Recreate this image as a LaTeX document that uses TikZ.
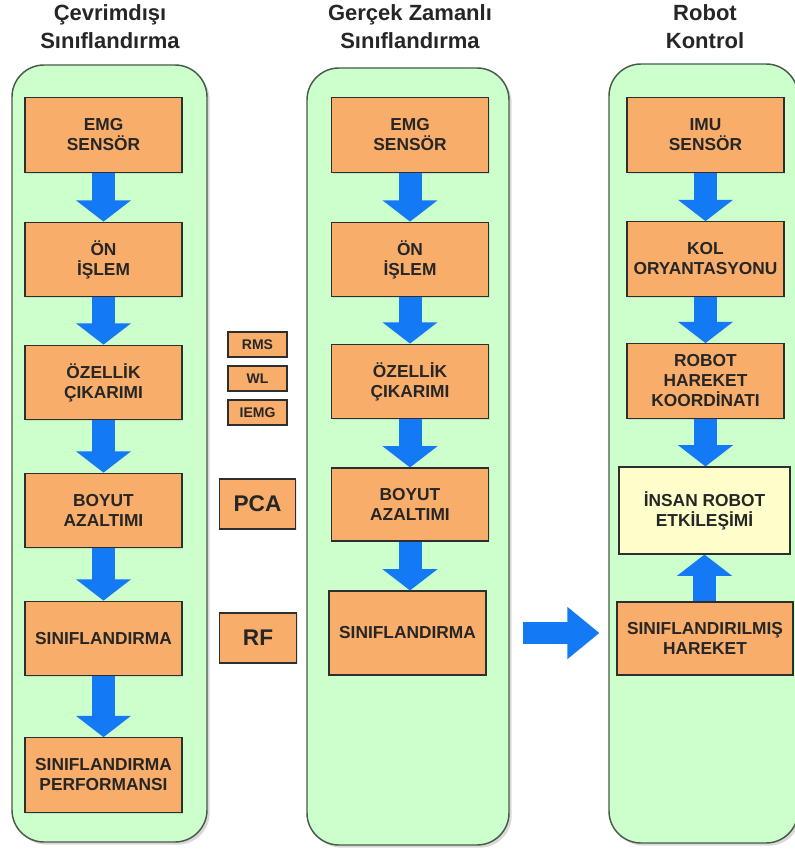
\documentclass[tikz,border=0pt]{standalone}
\usepackage{fontspec}
\setmainfont{Liberation Sans}
\usetikzlibrary{arrows.meta,shadows}

\definecolor{panelgreen}{HTML}{CCFFCC}
\definecolor{panelline}{HTML}{4A5A4A}
\definecolor{boxorange}{HTML}{F9AD6A}
\definecolor{boxyellow}{HTML}{FFFFCC}
\definecolor{boxline}{HTML}{2E2E2E}
\definecolor{flowblue}{HTML}{1479F5}
\definecolor{textdark}{HTML}{262626}

\tikzset{
  panel/.style={draw=panelline, line width=1.1pt, fill=panelgreen, rounded corners=24pt,
    drop shadow={shadow xshift=2pt, shadow yshift=-2pt, opacity=.3}},
  title/.style={align=center, font=\bfseries\fontsize{16.5}{21}\selectfont, text=textdark},
  box/.style={draw=boxline, line width=.8pt, fill=boxorange, align=center, inner sep=0pt,
    minimum width=117.75pt, minimum height=56pt, text=textdark,
    font=\bfseries\fontsize{13}{15}\selectfont,
    drop shadow={shadow xshift=1pt, shadow yshift=-1pt, opacity=.18}},
  tag/.style={box, minimum width=44.25pt, minimum height=18.75pt, font=\bfseries\fontsize{10.5}{12}\selectfont},
  method/.style={box, minimum width=57.5pt, minimum height=37.5pt, font=\bfseries\fontsize{17}{20}\selectfont},
  flow/.style={line width=17.25pt, draw=flowblue, -{Triangle[length=16pt,width=40.5pt]}},
  bigflow/.style={line width=16pt, draw=flowblue, -{Triangle[length=24pt,width=37.5pt]}}
}

\begin{document}
\begin{tikzpicture}[x=0.75pt, y=-0.75pt]
        \useasboundingbox (0,0) rectangle (795,849);
        % panels
        \draw[panel] (12,65) rectangle (207,842);
        \draw[panel] (307,68) rectangle (509,845);
        \draw[panel] (609,64) rectangle (798,843);
        % titles
        \node[title](tl) at (110,27) {Çevrimdışı\\Sınıflandırma};
        \node[title](tm) at (410,27) {Gerçek Zamanlı\\Sınıflandırma};
        \node[title](tr) at (705,27) {Robot\\Kontrol};
        % offline column
        \node[box](lemg) at (103.5,135) {EMG\\SENSÖR};
        \node[box](lon) at (103.5,259.5) {ÖN\\İŞLEM};
        \node[box](loz) at (103.5,382.5) {ÖZELLİK\\ÇIKARIMI};
        \node[box](lboy) at (103.5,510.5) {BOYUT\\AZALTIMI};
        \node[box](lcls) at (103.5,638.5) {SINIFLANDIRMA};
        \node[box](lperf) at (103.5,775) {SINIFLANDIRMA\\PERFORMANSI};
        % methods
        \node[tag](rms) at (257.5,344.5) {RMS};
        \node[tag](wl) at (257.5,378.5) {WL};
        \node[tag](iemg) at (257.5,412.5) {IEMG};
        \node[method](pca) at (257.5,504) {PCA};
        \node[method](rf) at (258,638) {RF};
        % real time column
        \node[box](memg) at (410,135) {EMG\\SENSÖR};
        \node[box](mon) at (410,259.5) {ÖN\\İŞLEM};
        \node[box](moz) at (410,381.5) {ÖZELLİK\\ÇIKARIMI};
        \node[box, minimum height=54.75pt](mboy) at (410,504.5) {BOYUT\\AZALTIMI};
        \node[box, minimum height=63pt](mcls) at (407.5,633) {SINIFLANDIRMA};
        % robot column
        \node[box](rimu) at (705.5,135) {IMU\\SENSÖR};
        \node[box](rkol) at (705.5,259) {KOL\\ORYANTASYONU};
        \node[box](rrob) at (705.5,381) {ROBOT\\HAREKET\\KOORDİNATI};
        \node[box, fill=boxyellow, minimum width=128.25pt, minimum height=65.25pt](rins) at (704.5,510.5) {İNSAN ROBOT\\ETKİLEŞİMİ};
        \node[box, minimum width=132pt, minimum height=54.75pt](rcls) at (705,638.5) {SINIFLANDIRILMIŞ\\HAREKET};
        % arrows
        \draw[flow](lemg)--(lon);
        \draw[flow](lon)--(loz);
        \draw[flow](loz)--(lboy);
        \draw[flow](lboy)--(lcls);
        \draw[flow](lcls)--(lperf);
        \draw[flow](memg)--(mon);
        \draw[flow](mon)--(moz);
        \draw[flow](moz)--(mboy);
        \draw[flow](mboy.south)--(mboy.south |- mcls.north);
        \draw[flow](rimu)--(rkol);
        \draw[flow](rkol)--(rrob);
        \draw[flow](rrob.south)--(rrob.south |- rins.north);
        \draw[flow](rcls.north -| rins.south)--(rins.south);
        \draw[bigflow, shorten <=27pt, shorten >=12.75pt](mcls.east)--(mcls.east -| rcls.west);
\end{tikzpicture}
\end{document}
